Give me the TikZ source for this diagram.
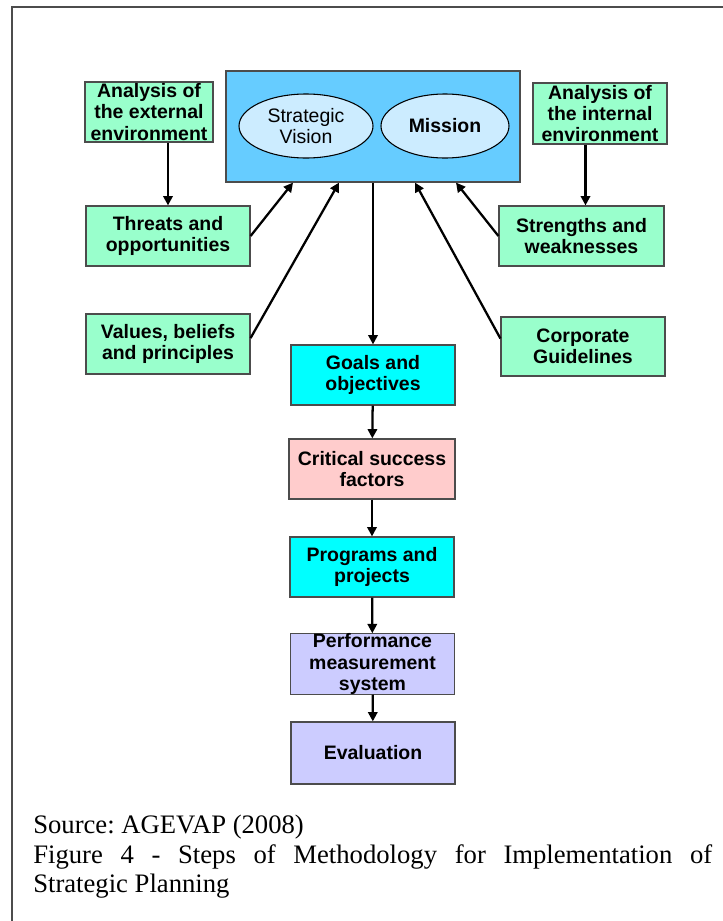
\documentclass[tikz,border=0pt]{standalone}
\usepackage{fontspec}
\setmainfont{Liberation Serif}
\setsansfont{Liberation Sans}
\usetikzlibrary{arrows.meta,calc,shapes.geometric}
\definecolor{envgreen}{HTML}{99FFCC}
\definecolor{topblue}{HTML}{66CCFF}
\definecolor{ovalblue}{HTML}{CCECFF}
\definecolor{stepcyan}{HTML}{00FFFF}
\definecolor{steppink}{HTML}{FFCCCC}
\definecolor{steplilac}{HTML}{CCCCFF}
\newcommand{\px}{0.75pt}
\newcommand{\boxfont}{\sffamily\bfseries\fontsize{14.6}{15.8}\selectfont}
\frenchspacing

\tikzset{
  box/.style={draw=black!70, line width=0.9pt, align=center, inner sep=0pt,
    font=\boxfont, minimum width=164*\px, minimum height=60*\px},
  envbox/.style={box, fill=envgreen},
  oval/.style={ellipse, draw=black, line width=0.8pt, fill=ovalblue, inner sep=0pt,
    minimum height=64*\px, font=\sffamily\fontsize{14.6}{15.8}\selectfont, align=center},
  arr/.style={-{Triangle[length=7pt,width=7pt]}, line width=1.7pt},
}

\begin{document}
\begin{tikzpicture}[x=\px, y=-\px]
        \useasboundingbox (0,0) rectangle (723,921);
        \draw[line width=1.2pt, black!70] (12,925) -- (12,7) -- (727,7);

        % vision and mission
        \node[box, fill=topblue, minimum width=294*\px, minimum height=111*\px] (top) at (373,126.5) {};
        \node[oval, minimum width=134*\px] (vis) at (306,126) {Strategic\\Vision};
        \node[oval, minimum width=128*\px, font=\boxfont] (mis) at (445,126) {Mission};

        % environment
        \node[envbox, minimum width=128*\px] (ext) at (149,112) {Analysis of\\the external\\environment};
        \node[envbox, minimum width=134*\px, minimum height=61*\px] (intl) at (600,113.5) {Analysis of\\the internal\\environment};
        \node[envbox] (thr) at (168,236) {Threats and\\opportunities};
        \node[envbox, minimum width=165*\px] (str) at (581.5,236) {Strengths and\\weaknesses};
        \node[envbox] (val) at (168,344) {Values, beliefs\\and principles};
        \node[envbox, minimum height=59*\px] (corp) at (583,346.5) {Corporate\\Guidelines};

        % steps
        \node[box, fill=stepcyan] (goals) at (373,375) {Goals and\\objectives};
        \node[box, fill=steppink, minimum width=166*\px] (csf) at (372,469) {Critical success\\factors};
        \node[box, fill=stepcyan] (prog) at (372,567) {Programs and\\projects};
        \node[box, fill=steplilac] (perf) at (372.5,664) {Performance\\measurement\\system};
        \node[box, fill=steplilac, minimum height=62*\px] (eval) at (373,753) {Evaluation};

        \draw[arr] (ext.south -| thr.north) -- (thr.north);
        \draw[arr] ($(intl.south -| str.north)+(4,0)$) -- ($(str.north)+(4,0)$);
        \draw[arr] (thr.east) -- ($(top.south)+(-80,0)$);
        \draw[arr] ($(val.east)+(0,-6)$) -- ($(top.south)+(-34,0)$);
        \draw[arr] ($(corp.west)+(0,-8)$) -- ($(top.south)+(42,0)$);
        \draw[arr] (str.west) -- ($(top.south)+(83,0)$);
        \draw[arr] (top.south) -- (goals.north);
        \draw[arr] (goals) -- (csf);
        \draw[arr] (csf) -- (prog);
        \draw[arr] (prog) -- (perf);
        \draw[arr] (perf) -- (eval);

        % caption
        \node[anchor=north west, inner sep=0pt, text width=679*\px, align=justify,
          font=\fontsize{20}{22}\selectfont] (cap) at (33,815)
          {Source: AGEVAP (2008)\\Figure 4 - Steps of Methodology for Implementation of\linebreak Strategic Planning};
\end{tikzpicture}
\end{document}
